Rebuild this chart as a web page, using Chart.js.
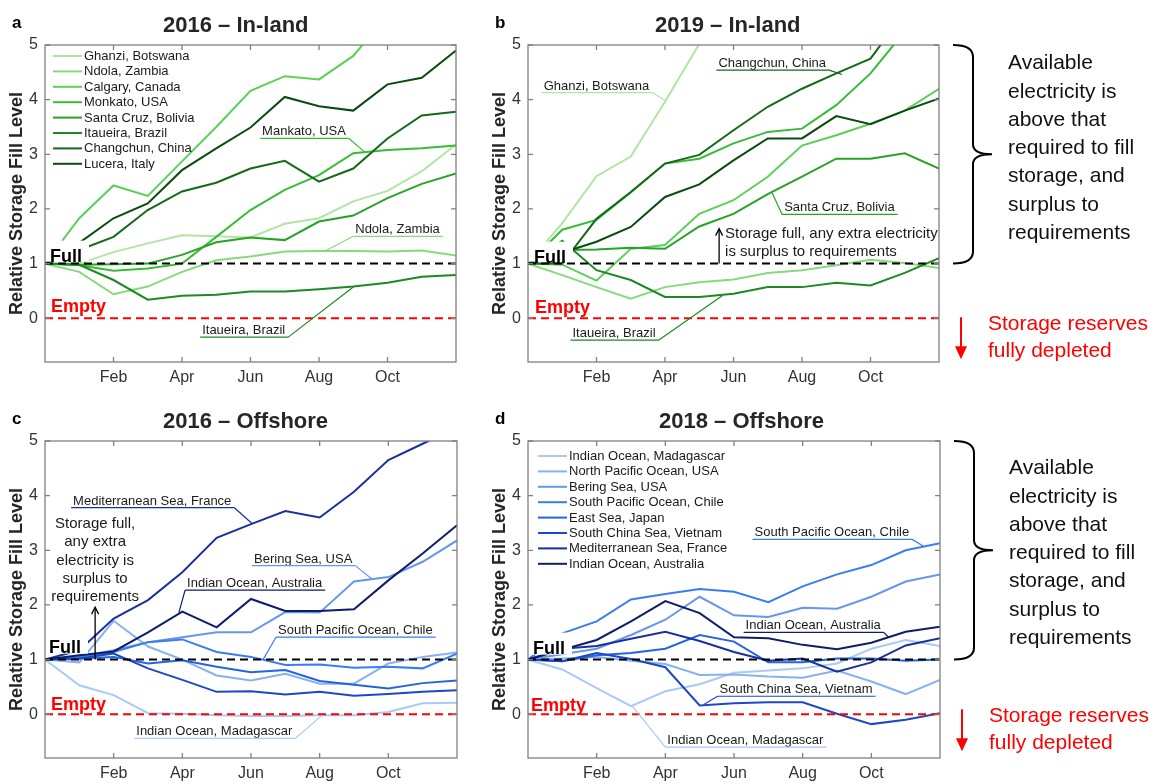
<!DOCTYPE html>
<html>
<head>
<meta charset="utf-8">
<title>Relative storage fill level</title>
<script src="https://cdn.jsdelivr.net/npm/chart.js@4.4.1/dist/chart.umd.min.js"></script>
<style>
  html, body { margin: 0; padding: 0; background: #fff; }
  body { width: 1168px; height: 784px; position: relative; overflow: hidden; }
  .pane { position: absolute; }
</style>
</head>
<body>
<div class="pane" style="left:0;top:0;width:480px;height:392px"><canvas id="chartA"></canvas></div>
<div class="pane" style="left:483px;top:0;width:685px;height:392px"><canvas id="chartB"></canvas></div>
<div class="pane" style="left:0;top:392px;width:480px;height:392px"><canvas id="chartC"></canvas></div>
<div class="pane" style="left:483px;top:392px;width:685px;height:392px"><canvas id="chartD"></canvas></div>
<script>
// =========================
// DATA
// =========================

const monthLabels = ['Dec', 'Jan', 'Feb', 'Mar', 'Apr', 'May', 'Jun', 'Jul', 'Aug', 'Sep', 'Oct', 'Nov', 'Dec'];
const shownMonths = ['Feb', 'Apr', 'Jun', 'Aug', 'Oct'];
const yTicks = [0, 1, 2, 3, 4, 5];

const fullLevel  = [1, 1, 1, 1, 1, 1, 1, 1, 1, 1, 1, 1, 1];
const emptyLevel = [0, 0, 0, 0, 0, 0, 0, 0, 0, 0, 0, 0, 0];

const inlandNames = ['Ghanzi, Botswana', 'Ndola, Zambia', 'Calgary, Canada', 'Monkato, USA',
    'Santa Cruz, Bolivia', 'Itaueira, Brazil', 'Changchun, China', 'Lucera, Italy'];
const offshoreNames = ['Indian Ocean, Madagascar', 'North Pacific Ocean, USA', 'Bering Sea, USA',
    'South Pacific Ocean, Chile', 'East Sea, Japan', 'South China Sea, Vietnam',
    'Mediterranean Sea, France', 'Indian Ocean, Australia'];

// 2016 in-land
const inland16Ghanzi    = [1, 1.00, 1.21, 1.37, 1.52, 1.50, 1.48, 1.73, 1.83, 2.14, 2.33, 2.69, 3.18];
const inland16Ndola     = [1, 0.85, 0.44, 0.58, 0.85, 1.06, 1.13, 1.22, 1.23, 1.23, 1.22, 1.24, 1.15];
const inland16Calgary   = [1, 1.83, 2.43, 2.24, 2.87, 3.50, 4.16, 4.43, 4.37, 4.80, 5.55, 6.20, 6.80];
const inland16Monkato   = [1, 0.97, 0.87, 0.91, 1.00, 1.49, 1.98, 2.35, 2.62, 3.02, 3.08, 3.11, 3.16];
const inland16SantaCruz = [1, 0.98, 0.99, 1.00, 1.16, 1.39, 1.48, 1.43, 1.77, 1.88, 2.20, 2.46, 2.65];
const inland16Itaueira  = [1, 0.98, 0.70, 0.34, 0.41, 0.43, 0.49, 0.49, 0.53, 0.58, 0.65, 0.76, 0.79];
const inland16Changchun = [1, 1.25, 1.49, 1.98, 2.32, 2.48, 2.74, 2.88, 2.50, 2.74, 3.29, 3.71, 3.78];
const inland16Lucera    = [1, 1.38, 1.83, 2.10, 2.71, 3.11, 3.49, 4.05, 3.88, 3.80, 4.28, 4.40, 4.90];

// 2019 in-land
const inland19Ghanzi    = [1, 1.74, 2.60, 2.96, 3.96, 5.02, 6.00, 6.80, 7.50, 8.20, 8.80, 9.40, 10.0];
const inland19Ndola     = [1, 0.79, 0.57, 0.36, 0.57, 0.66, 0.71, 0.83, 0.88, 0.97, 1.07, 1.01, 0.92];
const inland19Calgary   = [1, 0.98, 0.69, 1.27, 1.34, 1.91, 2.16, 2.59, 3.16, 3.35, 3.56, 3.80, 4.20];
const inland19Monkato   = [1, 1.62, 1.80, 2.30, 2.83, 2.92, 3.20, 3.41, 3.47, 3.90, 4.48, 5.25, 6.00];
const inland19SantaCruz = [1, 1.25, 1.26, 1.29, 1.27, 1.68, 1.91, 2.27, 2.59, 2.92, 2.92, 3.02, 2.74];
const inland19Itaueira  = [1, 1.42, 0.88, 0.70, 0.39, 0.39, 0.45, 0.57, 0.57, 0.65, 0.60, 0.83, 1.10];
const inland19Changchun = [1, 1.00, 1.82, 2.31, 2.83, 2.99, 3.44, 3.87, 4.20, 4.48, 4.75, 5.60, 6.40];
const inland19Lucera    = [1, 1.20, 1.40, 1.67, 2.22, 2.45, 2.89, 3.29, 3.29, 3.70, 3.55, 3.80, 4.02];

// 2016 offshore
const off16Madagascar   = [1, 0.53, 0.35, 0.02, 0.01, -0.02, -0.03, -0.03, -0.02, -0.02, 0.04, 0.20, 0.21];
const off16NorthPacific = [1, 0.95, 1.71, 1.24, 1.00, 0.71, 0.62, 0.74, 0.56, 0.56, 0.93, 1.05, 1.13];
const off16Bering       = [1, 1.05, 1.17, 1.32, 1.41, 1.50, 1.50, 1.87, 1.86, 2.43, 2.51, 2.79, 3.18];
const off16Chile        = [1, 1.05, 1.14, 1.32, 1.37, 1.14, 1.05, 0.90, 0.91, 0.85, 0.87, 0.84, 1.11];
const off16EastSea      = [1, 1.02, 1.05, 0.93, 0.99, 0.87, 0.77, 0.81, 0.61, 0.54, 0.47, 0.57, 0.62];
const off16SouthChina   = [1, 1.02, 1.11, 0.84, 0.63, 0.41, 0.42, 0.36, 0.41, 0.34, 0.37, 0.41, 0.44];
const off16Mediterr     = [1, 1.17, 1.75, 2.09, 2.60, 3.23, 3.48, 3.72, 3.60, 4.07, 4.65, 4.95, 5.25];
const off16Australia    = [1, 1.08, 1.15, 1.50, 1.88, 1.59, 2.11, 1.89, 1.89, 1.92, 2.45, 2.94, 3.46];

// 2018 offshore
const off18Madagascar   = [1, 0.82, 0.48, 0.15, 0.42, 0.55, 0.76, 0.80, 0.84, 0.93, 1.20, 1.36, 1.25];
const off18NorthPacific = [1, 1.02, 1.05, 0.98, 0.92, 0.72, 0.73, 0.69, 0.67, 0.80, 0.60, 0.37, 0.63];
const off18Bering       = [1, 1.10, 1.20, 1.45, 1.73, 2.15, 1.81, 1.78, 1.95, 1.93, 2.15, 2.43, 2.56];
const off18Chile        = [1, 1.48, 1.70, 2.10, 2.20, 2.29, 2.24, 2.05, 2.34, 2.56, 2.73, 3.00, 3.13];
const off18EastSea      = [1, 0.97, 1.08, 1.12, 1.20, 1.45, 1.33, 0.95, 0.95, 1.02, 1.02, 0.98, 1.00];
const off18SouthChina   = [1, 0.97, 1.12, 1.01, 0.86, 0.16, 0.20, 0.22, 0.22, 0.01, -0.18, -0.10, 0.02];
const off18Mediterr     = [1, 1.20, 1.25, 1.38, 1.51, 1.34, 1.14, 0.98, 1.02, 0.78, 0.95, 1.26, 1.39];
const off18Australia    = [1, 1.18, 1.36, 1.70, 2.07, 1.85, 1.41, 1.39, 1.27, 1.19, 1.31, 1.51, 1.60];

const sideLines = ['Available', 'electricity is', 'above that', 'required to fill',
    'storage, and', 'surplus to', 'requirements'];
const depletedLines = ['Storage reserves', 'fully depleted'];

// =========================
// STYLE
// =========================

const FONT = '"Liberation Sans", Arial, Helvetica, sans-serif';
const greenShades = ['#aee6a2', '#86d97c', '#5ccf57', '#36bd34', '#27a327', '#1d8a21', '#15691a', '#0c4a10'];
const blueShades  = ['#a9c9f6', '#88b0f2', '#6796ef', '#3a7cf2', '#2563e6', '#1d47c9', '#1a309e', '#0f1c6b'];

Chart.defaults.font.family = FONT;
Chart.defaults.color = '#333';

const panels = [
    {
        id: 'chartA', letter: 'a', title: '2016 \u2013 In-land', titleDx: 118,
        padTop: 45, padRight: 24, xHeight: 30,
        names: inlandNames, colors: greenShades,
        values: [inland16Ghanzi, inland16Ndola, inland16Calgary, inland16Monkato,
                 inland16SantaCruz, inland16Itaueira, inland16Changchun, inland16Lucera],
        legend: [8, 11], fullAt: [5, -2], emptyAt: [6, -6],
        notes: [
            { text: 'Mankato, USA', at: [6.28, 3.29], tip: [9.34, 3.04], color: greenShades[3] },
            { text: 'Ndola, Zambia', at: [9.0, 1.5], tip: [8.18, 1.23], color: greenShades[1] },
            { text: 'Itaueira, Brazil', at: [4.53, -0.345], tip: [9.02, 0.58], color: greenShades[5] }
        ]
    },
    {
        id: 'chartB', letter: 'b', title: '2019 \u2013 In-land', titleDx: 127,
        padTop: 45, padRight: 229, xHeight: 30,
        names: inlandNames, colors: greenShades,
        values: [inland19Ghanzi, inland19Ndola, inland19Calgary, inland19Monkato,
                 inland19SantaCruz, inland19Itaueira, inland19Changchun, inland19Lucera],
        fullAt: [6, -1], emptyAt: [7, -5],
        notes: [
            { text: 'Ghanzi, Botswana', at: [0.4, 4.13], tip: [4.04, 3.97], color: greenShades[0] },
            { text: 'Changchun, China', at: [5.5, 4.54], tip: [9.17, 4.46], color: greenShades[6] },
            { text: 'Santa Cruz, Bolivia', at: [7.42, 1.9], tip: [7.13, 2.29], color: greenShades[4] },
            { text: 'Itaueira, Brazil', at: [1.24, -0.4], tip: [5.69, 0.42], color: greenShades[5] }
        ],
        arrowNote: { x: 5.58, top: 1.64, dx: 6, dy: 5, align: 'left',
            lines: ['Storage full, any extra electricity', 'is surplus to requirements'] },
        side: true, sideDy: -6, redDy: 0
    },
    {
        id: 'chartC', letter: 'c', title: '2016 \u2013 Offshore', titleDx: 118,
        padTop: 49, padRight: 23, xHeight: 26,
        names: offshoreNames, colors: blueShades,
        values: [off16Madagascar, off16NorthPacific, off16Bering, off16Chile,
                 off16EastSea, off16SouthChina, off16Mediterr, off16Australia],
        fullAt: [4, -7], emptyAt: [6, -4],
        notes: [
            { text: 'Mediterranean Sea, France', at: [0.76, 3.78], tip: [6.03, 3.49], color: blueShades[6] },
            { text: 'Indian Ocean, Australia', at: [4.08, 2.27], tip: [3.9, 1.86], color: blueShades[7] },
            { text: 'Bering Sea, USA', at: [6.03, 2.72], tip: [9.53, 2.47], color: blueShades[2] },
            { text: 'South Pacific Ocean, Chile', at: [6.73, 1.41], tip: [6.35, 1.0], color: blueShades[3] },
            { text: 'Indian Ocean, Madagascar', at: [2.6, -0.44], tip: [8.07, -0.02], color: blueShades[0] }
        ],
        arrowNote: { x: 1.46, top: 1.96, dx: 0, dy: -83, align: 'center',
            lines: ['Storage full,', 'any extra', 'electricity is', 'surplus to', 'requirements'] }
    },
    {
        id: 'chartD', letter: 'd', title: '2018 \u2013 Offshore', titleDx: 131,
        padTop: 49, padRight: 228, xHeight: 26,
        names: offshoreNames, colors: blueShades,
        values: [off18Madagascar, off18NorthPacific, off18Bering, off18Chile,
                 off18EastSea, off18SouthChina, off18Mediterr, off18Australia],
        legend: [10, 15], fullAt: [5, -6], emptyAt: [3, -3],
        notes: [
            { text: 'South Pacific Ocean, Chile', at: [6.54, 3.2], tip: [11.53, 3.07], color: blueShades[3] },
            { text: 'Indian Ocean, Australia', at: [6.28, 1.5], tip: [10.5, 1.41], color: blueShades[7] },
            { text: 'South China Sea, Vietnam', at: [5.52, 0.33], tip: [5.12, 0.18], color: blueShades[5] },
            { text: 'Indian Ocean, Madagascar', at: [4.0, -0.6], tip: [3.04, 0.15], color: blueShades[0] }
        ],
        side: true, sideDy: 3, redDy: -4
    }
];

// =========================
// HELPERS
// =========================

function seg(ctx, x1, y1, x2, y2) {
    ctx.beginPath();
    ctx.moveTo(x1, y1);
    ctx.lineTo(x2, y2);
    ctx.stroke();
}

function refLine(data, color) {
    return { label: '', data, borderColor: color, borderWidth: 2, borderDash: [8, 5],
             pointRadius: 0, fill: false, clip: 0, order: -1 };
}

function makeDecor(p) {
    return {
        id: 'decor' + p.letter,
        afterDatasetsDraw(chart) {
            const ctx = chart.ctx, ca = chart.chartArea;
            const xs = chart.scales.x, ys = chart.scales.y;
            const px = v => xs.getPixelForValue(v), py = v => ys.getPixelForValue(v);
            const y1 = py(1), y0 = py(0);

            ctx.save();
            ctx.textAlign = 'left';
            ctx.textBaseline = 'alphabetic';

            // Full / Empty labels
            ctx.font = 'bold 18px ' + FONT;
            const fx = ca.left + p.fullAt[0], fy = y1 + p.fullAt[1];
            const fw = ctx.measureText('Full').width;
            ctx.fillStyle = '#fff';
            ctx.fillRect(ca.left + 1, fy - 21, fx + fw + 7 - ca.left - 1, Math.min(fy + 1, y1 - 2) - (fy - 21));
            ctx.fillStyle = '#000';
            ctx.fillText('Full', fx, fy);
            ctx.fillStyle = '#ff0000';
            ctx.fillText('Empty', ca.left + p.emptyAt[0], y0 + p.emptyAt[1]);

            // axes box + inward ticks
            ctx.strokeStyle = '#808080';
            ctx.lineWidth = 1.3;
            ctx.strokeRect(ca.left, ca.top, ca.right - ca.left, ca.bottom - ca.top);
            ctx.beginPath();
            monthLabels.forEach((m, i) => {
                if (!shownMonths.includes(m)) return;
                const x = px(i);
                ctx.moveTo(x, ca.bottom); ctx.lineTo(x, ca.bottom - 5);
                ctx.moveTo(x, ca.top); ctx.lineTo(x, ca.top + 5);
            });
            yTicks.forEach(v => {
                const y = py(v);
                ctx.moveTo(ca.left, y); ctx.lineTo(ca.left + 5, y);
                ctx.moveTo(ca.right, y); ctx.lineTo(ca.right - 5, y);
            });
            ctx.stroke();

            // legend
            if (p.legend) {
                ctx.font = '13px ' + FONT;
                ctx.textBaseline = 'middle';
                p.names.forEach((n, k) => {
                    const lx = ca.left + p.legend[0], ly = ca.top + p.legend[1] + k * 15.4;
                    ctx.strokeStyle = p.colors[k];
                    ctx.lineWidth = 2;
                    seg(ctx, lx, ly, lx + 29, ly);
                    ctx.fillStyle = '#1a1a1a';
                    ctx.fillText(n, lx + 31, ly + 0.5);
                });
                ctx.textBaseline = 'alphabetic';
            }

            // labelled pointers
            ctx.font = '13px ' + FONT;
            p.notes.forEach(an => {
                const ux = px(an.at[0]), uy = py(an.at[1]);
                const w = ctx.measureText(an.text).width + 5;
                const tx = px(an.tip[0]), ty = py(an.tip[1]);
                const ex = Math.abs(tx - ux) < Math.abs(tx - (ux + w)) ? ux : ux + w;
                ctx.fillStyle = '#1a1a1a';
                ctx.fillText(an.text, ux + 2, uy - 3);
                ctx.strokeStyle = an.color;
                ctx.lineWidth = 1.2;
                ctx.beginPath();
                ctx.moveTo(ux, uy); ctx.lineTo(ux + w, uy);
                ctx.moveTo(ex, uy); ctx.lineTo(tx, ty);
                ctx.stroke();
            });

            // "storage full" arrow
            if (p.arrowNote) {
                const an = p.arrowNote, ax = px(an.x), at = py(an.top);
                ctx.strokeStyle = '#000';
                ctx.lineWidth = 1.3;
                seg(ctx, ax, y1, ax, at + 1);
                ctx.beginPath();
                ctx.moveTo(ax - 3.5, at + 7); ctx.lineTo(ax, at); ctx.lineTo(ax + 3.5, at + 7);
                ctx.stroke();
                ctx.font = '15px ' + FONT;
                ctx.fillStyle = '#1a1a1a';
                ctx.textAlign = an.align;
                ctx.textBaseline = 'middle';
                an.lines.forEach((t, k) => ctx.fillText(t, ax + an.dx, at + an.dy + k * 18.2));
                ctx.textAlign = 'left';
                ctx.textBaseline = 'alphabetic';
            }

            // title + panel letter
            ctx.font = 'bold 22px ' + FONT;
            ctx.fillStyle = '#262626';
            ctx.fillText(p.title, ca.left + p.titleDx, ca.top - 13);
            ctx.font = 'bold 17px ' + FONT;
            ctx.fillStyle = '#000';
            ctx.fillText(p.letter, ca.left - 33, ca.top - 17);

            // right-hand explanation
            if (p.side) {
                const bx = ca.right + 14, yt = py(5), yb = y1, ym = (yt + yb) / 2;
                ctx.strokeStyle = '#000';
                ctx.lineWidth = 2;
                ctx.beginPath();
                ctx.moveTo(bx, yt);
                ctx.quadraticCurveTo(bx + 20, yt, bx + 20, yt + 12);
                ctx.lineTo(bx + 20, ym - 10);
                ctx.quadraticCurveTo(bx + 20, ym, bx + 39, ym);
                ctx.quadraticCurveTo(bx + 20, ym, bx + 20, ym + 10);
                ctx.lineTo(bx + 20, yb - 12);
                ctx.quadraticCurveTo(bx + 20, yb, bx, yb);
                ctx.stroke();

                ctx.font = '21px ' + FONT;
                ctx.fillStyle = '#111';
                ctx.textBaseline = 'middle';
                sideLines.forEach((t, k) => ctx.fillText(t, ca.right + 69, ym + p.sideDy + (k - 3) * 28.3));

                const rx = ca.right + 22, rt = y0 - 1 + p.redDy, rb = y0 + 41 + p.redDy;
                ctx.strokeStyle = '#ff0000';
                ctx.fillStyle = '#ff0000';
                seg(ctx, rx, rt, rx, rb - 10);
                ctx.beginPath();
                ctx.moveTo(rx - 6, rb - 13); ctx.lineTo(rx + 6, rb - 13); ctx.lineTo(rx, rb);
                ctx.closePath();
                ctx.fill();
                depletedLines.forEach((t, k) => ctx.fillText(t, ca.right + 49, y0 + 6 + p.redDy + k * 27));
            }
            ctx.restore();
        }
    };
}

// =========================
// BUILD
// =========================

function buildPanel(p) {
    const datasets = [refLine(fullLevel, '#000000'), refLine(emptyLevel, '#ff0000')].concat(
        p.names.map((name, k) => ({
            label: name,
            data: p.values[k],
            borderColor: p.colors[k],
            borderWidth: 2,
            pointRadius: 0,
            tension: 0,
            fill: false,
            clip: 0,
            order: p.names.length - k
        }))
    );

    new Chart(document.getElementById(p.id), {
        type: 'line',
        data: { labels: monthLabels, datasets },
        options: {
            responsive: true,
            maintainAspectRatio: false,
            animation: false,
            events: [],
            layout: { padding: { top: p.padTop, right: p.padRight, bottom: 0, left: 0 } },
            plugins: { legend: { display: false }, tooltip: { enabled: false } },
            scales: {
                x: {
                    type: 'category',
                    offset: false,
                    grid: { display: false, drawTicks: false },
                    border: { display: false },
                    ticks: {
                        autoSkip: false, maxRotation: 0, padding: 6,
                        color: '#333', font: { size: 16 },
                        callback(v) {
                            const l = this.getLabelForValue(v);
                            return shownMonths.includes(l) ? l : '';
                        }
                    },
                    afterFit(s) { s.height = p.xHeight; }
                },
                y: {
                    min: -0.8,
                    max: 5,
                    grid: { display: false, drawTicks: false },
                    border: { display: false },
                    afterBuildTicks(s) { s.ticks = yTicks.map(v => ({ value: v })); },
                    ticks: { padding: 7, color: '#333', font: { size: 16 } },
                    title: {
                        display: true, text: 'Relative Storage Fill Level', color: '#262626',
                        font: { size: 18, weight: 'bold' }, padding: { top: 6, bottom: 0 }
                    },
                    afterFit(s) { s.width = 45; }
                }
            }
        },
        plugins: [makeDecor(p)]
    });
}

panels.forEach(buildPanel);
</script>
</body>
</html>
